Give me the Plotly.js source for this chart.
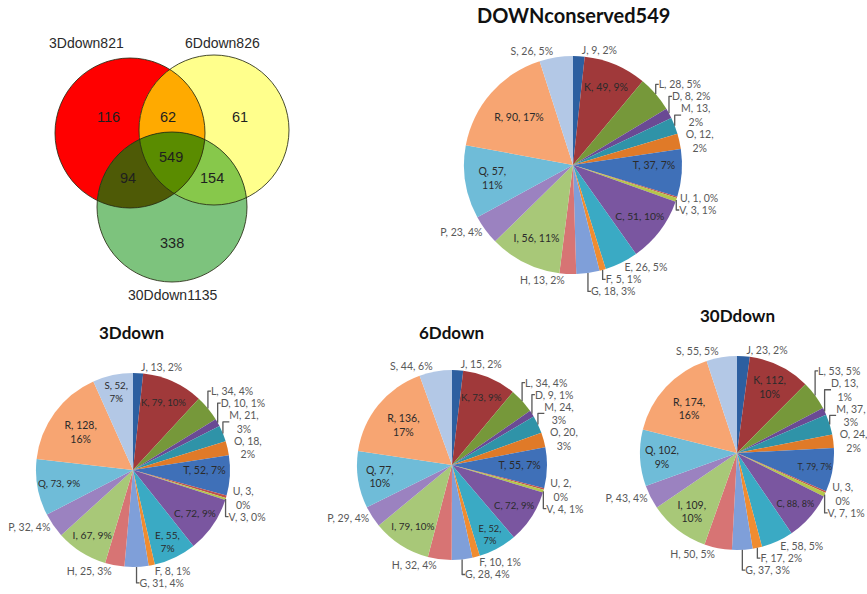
<!DOCTYPE html>
<html>
<head>
<meta charset="utf-8">
<script src="https://cdn.plot.ly/plotly-3.0.1.min.js"></script>
<style>
  html, body { margin: 0; padding: 0; background: #fff; }
  #chart { width: 867px; height: 594px; }
</style>
</head>
<body>
<div id="chart"></div>
<script>
// COG functional categories, in slice order (clockwise from 12 o'clock)
const categories = ['J','K','L','D','M','O','T','U','V','C','E','F','G','H','I','P','Q','R','S'];
const sliceColors = ['#2D5FA0','#A0393A','#76983A','#6A4A94','#2F93A8','#E07A28','#3F70B8','#C0504D','#B5C64A',
                     '#7A56A0','#3AAAC4','#F08C30','#7F9FD9','#D77474','#A8C878','#9B82C0','#6FBCD8','#F7A572','#B3C8E6'];

// gene counts per category
const downConserved = [9,49,28,8,13,12,37,1,3,51,26,5,18,13,56,23,57,90,26];
const down3D  = [13,79,34,10,21,18,52,3,3,72,55,8,31,25,67,32,73,128,52];
const down6D  = [15,73,34,9,24,20,55,2,4,72,52,10,28,32,79,29,77,136,44];
const down30D = [23,112,53,13,37,24,79,3,7,88,58,17,37,50,109,43,102,174,55];

const pieTitles = ['DOWNconserved549','3Ddown','6Ddown','30Ddown'];

// which labels sit inside the slice, and which wrap the percentage onto a second line
const insideSets = [
  ['K','T','C','I','Q','R'],
  ['S','K','T','C','E','I','Q','R'],
  ['K','T','C','E','I','Q','R'],
  ['K','T','C','I','Q','R']
];
const wrapSets = [
  ['M','O','Q'],
  ['S','M','O','U','E','R'],
  ['M','O','U','E','Q','R'],
  ['K','D','M','O','U','I','Q','R']
];

// Venn diagram of down-regulated gene sets
const vennSets = ['3Ddown821','6Ddown826','30Ddown1135'];
const vennRegions = ['3D only','3D&6D','6D only','3D&30D','all','6D&30D','30D only'];
const vennCounts = [116,62,61,94,549,154,338];

// ---- geometry / styling ----
const W = 867, H = 594;
const pieBoxes = [ // [cx, cy, r] in px
  [573,165,109],
  [133,470,97],
  [452,465,95],
  [737,453,97]
];
const titlePos = [[573,15,20],[131,333,17],[452,332,17],[737,315,17]];

const circles = [ {x:130,y:133,r:75}, {x:214,y:130,r:75}, {x:172,y:207,r:75} ];
const circleFills = ['#FF0000','#FFFF8C','#7DC37D'];
const lensFills = { '01':'#FFAA00', '02':'#4E5A06', '12':'#87C84B', '012':'#5A8C00' };
const setLabelPos = [[86,43],[222,43],[172,295]];
const regionPos = [[108,117],[168,117],[240,117],[128,178],[171,157],[212,178],[172,243]];

const fontFamily = 'Lato, "Open Sans", sans-serif';
const insideColor = '#2b2b2b';
const outsideColor = '#595959';

function templateFor(i) {
  return categories.map(c => {
    const sep = wrapSets[i].includes(c) ? '<br>' : ' ';
    return '%{label}, %{value},' + sep + '%{percent:.0%}';
  });
}

const series = [downConserved, down3D, down6D, down30D];
const traces = series.map((vals, i) => {
  const [cx, cy, r] = pieBoxes[i];
  const inside = categories.map(c => insideSets[i].includes(c));
  return {
    type: 'pie',
    labels: categories,
    values: vals,
    sort: false,
    direction: 'clockwise',
    rotation: 0,
    marker: { colors: sliceColors, line: { width: 0 } },
    texttemplate: templateFor(i),
    textposition: inside.map(v => v ? 'inside' : 'outside'),
    insidetextorientation: 'horizontal',
    textfont: { family: fontFamily, size: 10.5, color: inside.map(v => v ? insideColor : outsideColor) },
    insidetextfont: { family: fontFamily, size: 10.5, color: insideColor },
    outsidetextfont: { family: fontFamily, size: 10.5, color: outsideColor },
    hoverinfo: 'label+value+percent',
    showlegend: false,
    domain: { x: [(cx - r) / W, (cx + r) / W], y: [1 - (cy + r) / H, 1 - (cy - r) / H] }
  };
});

// Venn region outlines: intersection of circles is convex, so sort boundary samples by angle
function intersectionPath(idx) {
  const cs = idx.map(k => circles[k]);
  const pts = [];
  cs.forEach((c, a) => {
    for (let t = 0; t < 720; t++) {
      const th = t * Math.PI / 360;
      const px = c.x + c.r * Math.cos(th), py = c.y + c.r * Math.sin(th);
      const ok = cs.every((o, b) => b === a || Math.hypot(px - o.x, py - o.y) <= o.r + 1e-6);
      if (ok) pts.push([px, py]);
    }
  });
  const mx = pts.reduce((s, p) => s + p[0], 0) / pts.length;
  const my = pts.reduce((s, p) => s + p[1], 0) / pts.length;
  pts.sort((p, q) => Math.atan2(p[1] - my, p[0] - mx) - Math.atan2(q[1] - my, q[0] - mx));
  return 'M' + pts.map(p => p[0].toFixed(2) + ',' + p[1].toFixed(2)).join('L') + 'Z';
}

const shapes = [];
circles.forEach((c, k) => shapes.push({
  type: 'circle', xref: 'x', yref: 'y',
  x0: c.x - c.r, x1: c.x + c.r, y0: c.y - c.r, y1: c.y + c.r,
  fillcolor: circleFills[k], line: { width: 0 }, layer: 'above'
}));
Object.keys(lensFills).forEach(key => shapes.push({
  type: 'path', xref: 'x', yref: 'y',
  path: intersectionPath(key.split('').map(Number)),
  fillcolor: lensFills[key], line: { width: 0 }, layer: 'above'
}));
circles.forEach(c => shapes.push({
  type: 'circle', xref: 'x', yref: 'y',
  x0: c.x - c.r, x1: c.x + c.r, y0: c.y - c.r, y1: c.y + c.r,
  fillcolor: 'rgba(0,0,0,0)', line: { width: 1, color: 'rgba(40,45,20,0.85)' }, layer: 'above'
}));

const annotations = [];
vennSets.forEach((s, k) => annotations.push({
  xref: 'x', yref: 'y', x: setLabelPos[k][0], y: setLabelPos[k][1], text: s, showarrow: false,
  font: { family: 'Liberation Sans, Arial, sans-serif', size: 14, color: '#2a2a2a' }
}));
vennCounts.forEach((n, k) => annotations.push({
  xref: 'x', yref: 'y', x: regionPos[k][0], y: regionPos[k][1], text: String(n), showarrow: false,
  font: { family: 'Liberation Sans, Arial, sans-serif', size: 14.5, color: '#1f1f1f' }
}));
pieTitles.forEach((t, i) => annotations.push({
  xref: 'paper', yref: 'paper', x: titlePos[i][0] / W, y: 1 - titlePos[i][1] / H,
  xanchor: 'center', yanchor: 'middle', text: '<b>' + t + '</b>', showarrow: false,
  font: { family: fontFamily, size: titlePos[i][2], color: '#111' }
}));

const layout = {
  width: W, height: H,
  margin: { l: 0, r: 0, t: 0, b: 0 },
  paper_bgcolor: '#fff', plot_bgcolor: 'rgba(0,0,0,0)',
  xaxis: { domain: [0, 347 / W], range: [0, 347], visible: false, fixedrange: true },
  yaxis: { domain: [1 - 309 / H, 1], range: [309, 0], visible: false, fixedrange: true },
  shapes: shapes,
  annotations: annotations,
  showlegend: false
};

Plotly.newPlot('chart', traces, layout, { displayModeBar: false, staticPlot: true }).then(gd => {
  // keep the label colours fixed: dark inside the slices, grey outside
  gd.querySelectorAll('.pielayer .trace').forEach((tr, i) => {
    tr.querySelectorAll('g.slice').forEach((sl, j) => {
      const txt = sl.querySelector('text.slicetext');
      if (!txt) return;
      const c = insideSets[i].includes(categories[j]) ? insideColor : outsideColor;
      txt.style.fill = c;
      txt.querySelectorAll('tspan').forEach(ts => ts.style.fill = c);
    });
  });
});
</script>
</body>
</html>
